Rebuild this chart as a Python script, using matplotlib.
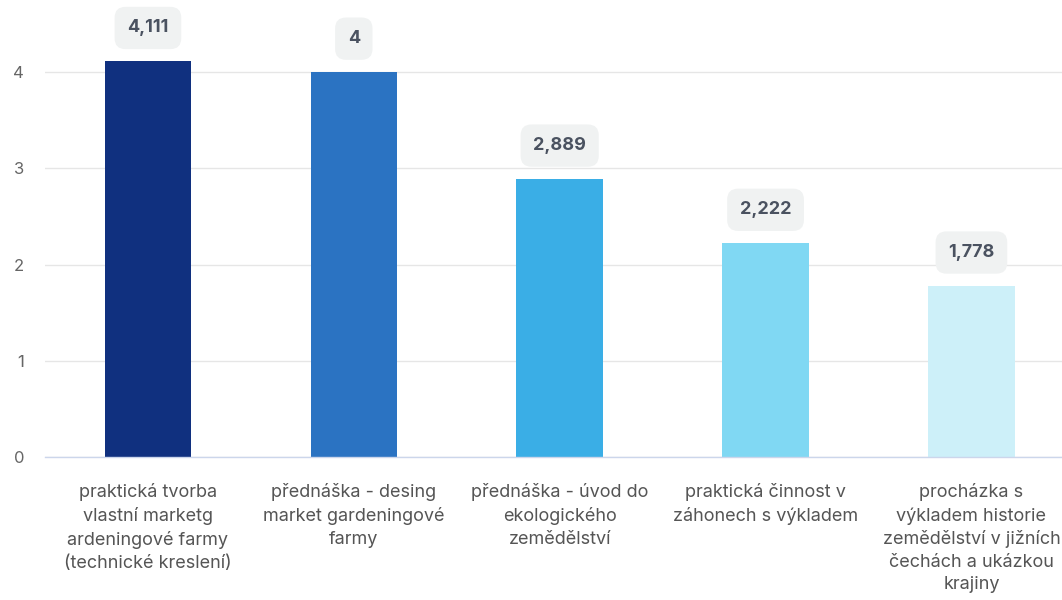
import matplotlib.pyplot as plt

# --- data ---
categories = [
    "praktická tvorba\nvlastní marketg\nardeningové farmy\n(technické kreslení)",
    "přednáška - desing\nmarket gardeningové\nfarmy",
    "přednáška - úvod do\nekologického\nzemědělství",
    "praktická činnost v\nzáhonech s výkladem",
    "procházka s\nvýkladem historie\nzemědělství v jižních\nčechách a ukázkou\nkrajiny",
]
values = [4.111, 4.0, 2.889, 2.222, 1.778]
value_labels = ["4,111", "4", "2,889", "2,222", "1,778"]
bar_colors = ["#10307f", "#2b73c2", "#3aaee6", "#80d8f3", "#cdf0f9"]
y_ticks = [0, 1, 2, 3, 4]

plt.rcParams['font.family'] = ['Inter', 'DejaVu Sans']

fig = plt.figure(figsize=(10.62, 6), dpi=100)
ax = fig.add_axes([45 / 1062, 1 - 457 / 600, 1 - 45 / 1062, 457 / 600])

x = list(range(len(categories)))
ax.bar(x, values, width=0.42, color=bar_colors, zorder=2)

ax.set_xlim(-0.5, 4.44)
ax.set_ylim(0, 457 / 96.25)

# gridlines
ax.set_yticks(y_ticks)
ax.yaxis.grid(True, color="#e6e6e6", linewidth=1)
ax.set_axisbelow(True)
for s in ["top", "right", "left"]:
    ax.spines[s].set_visible(False)
ax.spines["bottom"].set_color("#ccd6eb")
ax.spines["bottom"].set_linewidth(1)
ax.tick_params(axis="y", length=0, labelsize=12, labelcolor="#666666", pad=15)
ax.tick_params(axis="x", length=0, labelsize=13, labelcolor="#555555", pad=19)

ax.set_xticks(x)
ax.set_xticklabels(categories, linespacing=1.42)

# value labels in rounded boxes
for xi, v, lab in zip(x, values, value_labels):
    ax.annotate(lab, (xi, v), xytext=(0, 24), textcoords="offset points",
                ha="center", va="center", fontsize=13, fontweight="bold",
                color="#4a5260",
                bbox=dict(boxstyle="round,pad=0.7,rounding_size=0.6",
                          fc="#f0f2f2", ec="none"),
                annotation_clip=False, zorder=3)

fig.savefig("out.png", dpi=100)
